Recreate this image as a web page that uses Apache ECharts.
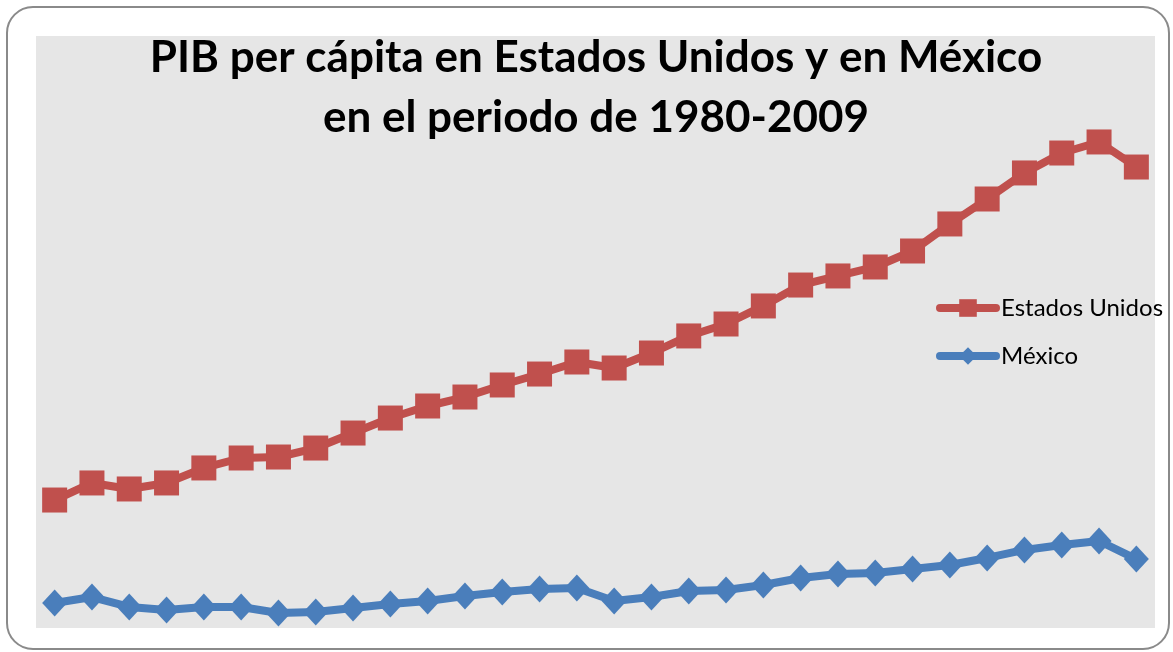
<!DOCTYPE html>
<html>
<head>
<meta charset="utf-8">
<title>PIB per cápita</title>
<script src="https://cdn.jsdelivr.net/npm/echarts@6/dist/echarts.min.js"></script>
<style>
  html, body { margin: 0; padding: 0; background: #fff; }
  #main { width: 1173px; height: 652px; }
</style>
</head>
<body>
<div id="main"></div>
<script>
// años 1980-2009
const years = [];
for (let y = 1980; y <= 2009; y++) years.push(String(y));

// valores (USD por persona, aprox.)
const estadosUnidos = [12970, 14700, 14090, 14700, 16220, 17230, 17330, 18240, 19760, 21280,
  22500, 23410, 24630, 25740, 26960, 26350, 27870, 29600, 30810, 32640,
  34760, 35680, 36590, 38210, 40950, 43480, 46120, 48140, 49260, 46720];
const mexico = [2530, 3140, 2130, 1820, 2130, 2130, 1520, 1620, 2030, 2430,
  2740, 3240, 3650, 3950, 4050, 2740, 3140, 3750, 3850, 4360,
  5070, 5470, 5570, 5980, 6390, 7100, 7910, 8410, 8820, 6990];

const chart = echarts.init(document.getElementById('main'), null, { renderer: 'canvas' });

const option = {
  backgroundColor: '#fff',
  animation: false,
  graphic: [
    {
      // marco exterior redondeado
      type: 'rect',
      z: -10,
      shape: { x: 7, y: 7, width: 1162, height: 642, r: 26 },
      style: { fill: '#fff', stroke: '#8a8a8a', lineWidth: 2 }
    },
    {
      type: 'text',
      z: 10,
      style: {
        x: 596,
        y: 28,
        text: 'PIB per cápita en Estados Unidos y en México\nen el periodo de 1980-2009',
        textAlign: 'center',
        font: 'bold 44px Lato',
        lineHeight: 60,
        fill: '#000'
      }
    }
  ],
  grid: {
    left: 36,
    right: 18,
    top: 36,
    bottom: 24,
    show: true,
    backgroundColor: '#e6e6e6',
    borderWidth: 0
  },
  legend: {
    orient: 'vertical',
    left: 931,
    top: 291,
    itemWidth: 56,
    itemHeight: 22,
    itemGap: 24,
    lineStyle: { width: 8, cap: 'round' },
    textStyle: { fontFamily: 'Lato', fontSize: 24, color: '#000' },
    data: ['Estados Unidos', 'México']
  },
  xAxis: {
    type: 'category',
    data: years,
    boundaryGap: true,
    show: false
  },
  yAxis: {
    type: 'value',
    min: 0,
    max: 60000,
    show: false
  },
  series: [
    {
      name: 'Estados Unidos',
      type: 'line',
      data: estadosUnidos,
      symbol: 'rect',
      symbolSize: 25,
      lineStyle: { width: 8, color: '#c0504d' },
      itemStyle: { color: '#c0504d' }
    },
    {
      name: 'México',
      type: 'line',
      data: mexico,
      symbol: 'diamond',
      symbolSize: [25, 27],
      lineStyle: { width: 8, color: '#4a7ebb' },
      itemStyle: { color: '#4a7ebb' }
    }
  ]
};

chart.setOption(option);
</script>
</body>
</html>
